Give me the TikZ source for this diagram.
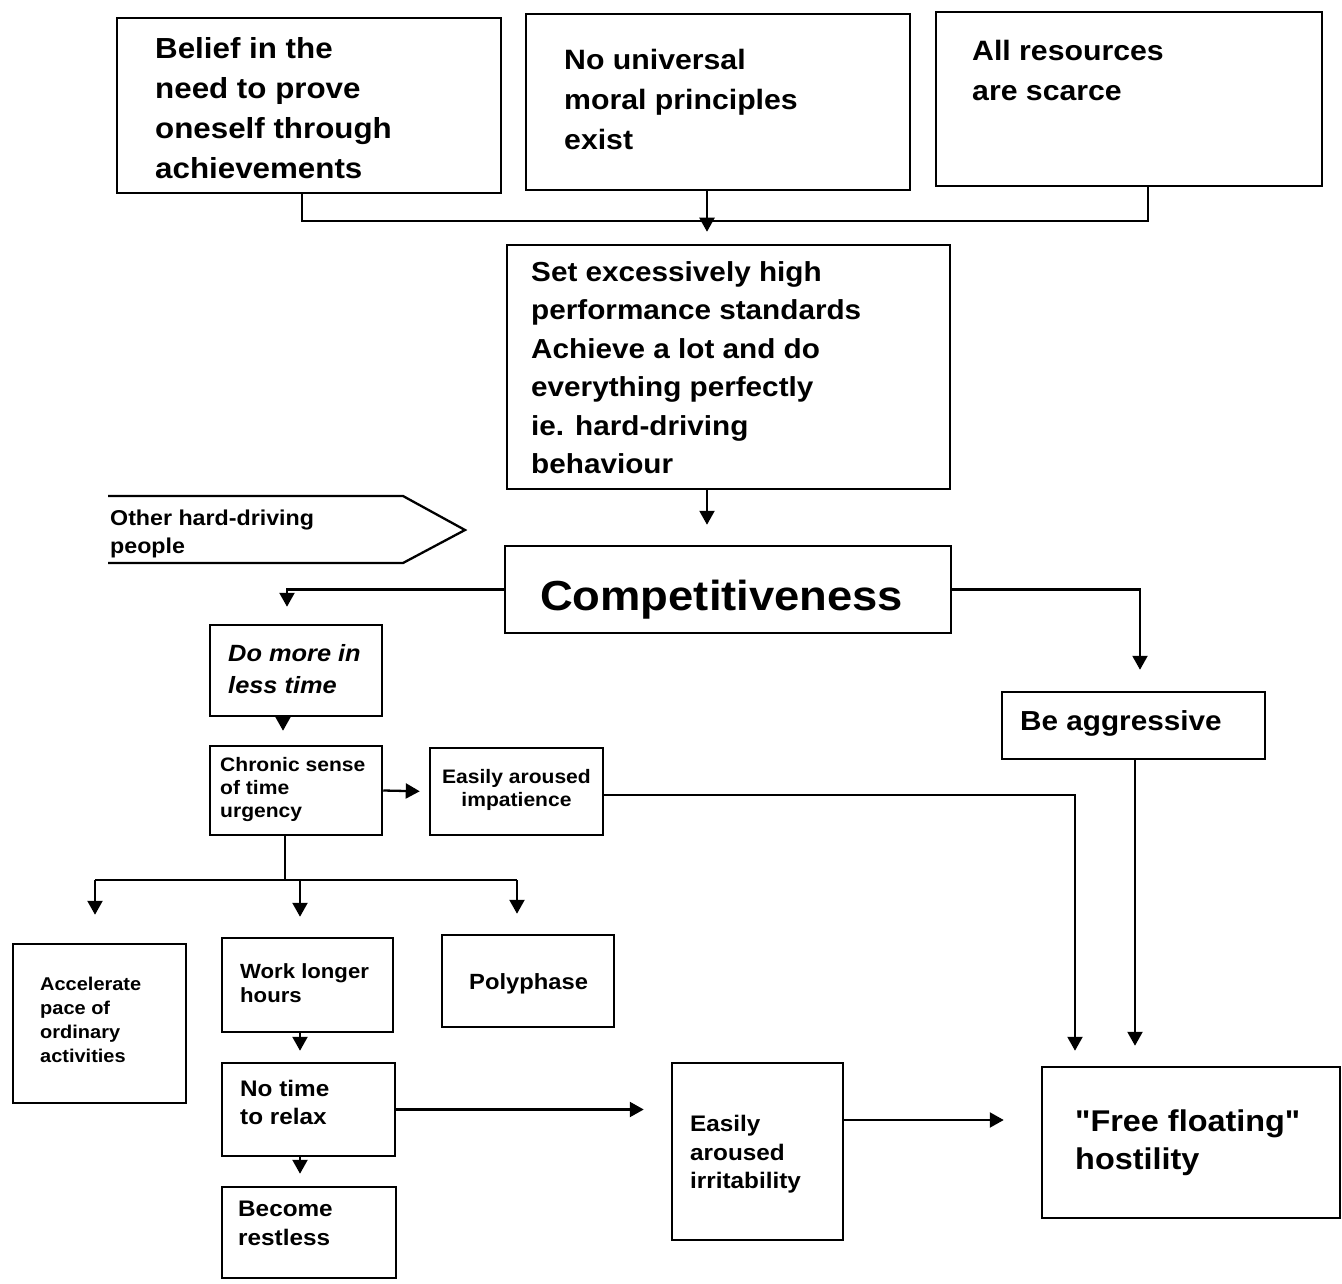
\documentclass[tikz,border=0pt]{standalone}
\usepackage{fontspec}
\setmainfont{Liberation Sans}[FakeStretch=1.08]
\newfontfamily\quotefont{Liberation Sans}[FakeStretch=1.08]
\newcommand{\sq}{{\quotefont\bfseries"}}
\usetikzlibrary{arrows.meta}
\tikzset{
  box/.style={draw, line width=2.5pt, inner sep=0pt},
  txt/.style 2 args={anchor=north west, inner sep=0pt, align=left, font=\bfseries\fontsize{#1}{#2}\selectfont},
  ctxt/.style 2 args={anchor=north, inner sep=0pt, align=center, font=\bfseries\fontsize{#1}{#2}\selectfont},
  link/.style={line width=2.3pt},
  arr/.style={line width=2.3pt, -{Triangle[width=15pt,length=14pt]}},
}
\begin{document}
\begin{tikzpicture}[x=1pt,y=-1pt]
\fill[white] (0,0) rectangle (1342,1284);
\useasboundingbox (0,0) rectangle (1342,1284);

% boxes
\node[box, minimum width=384pt, minimum height=175pt] (b1) at (309,105.5) {};
\node[box, minimum width=384pt, minimum height=176pt] (b2) at (718,102) {};
\node[box, minimum width=386pt, minimum height=174pt] (b3) at (1129,99) {};
\node[box, minimum width=443pt, minimum height=244pt] (b4) at (728.5,367) {};
\node[box, minimum width=446pt, minimum height=87pt] (comp) at (728,589.5) {};
\node[box, minimum width=172pt, minimum height=91pt] (domore) at (296,670.5) {};
\node[box, minimum width=263pt, minimum height=67pt] (aggr) at (1133.5,725.5) {};
\node[box, minimum width=172pt, minimum height=89pt] (chronic) at (296,790.5) {};
\node[box, minimum width=173pt, minimum height=87pt] (impat) at (516.5,791.5) {};
\node[box, minimum width=173pt, minimum height=159pt] (accel) at (99.5,1023.5) {};
\node[box, minimum width=171pt, minimum height=94pt] (work) at (307.5,985) {};
\node[box, minimum width=172pt, minimum height=92pt] (poly) at (528,981) {};
\node[box, minimum width=173pt, minimum height=93pt] (notime) at (308.5,1109.5) {};
\node[box, minimum width=174pt, minimum height=91pt] (become) at (309,1232.5) {};
\node[box, minimum width=171pt, minimum height=177pt] (irrit) at (757.5,1151.5) {};
\node[box, minimum width=298pt, minimum height=151pt] (host) at (1191,1142.5) {};

% pentagon arrow shape
\draw[line width=2.3pt] (108,496) -- (403,496) -- (465,530) -- (403,563) -- (108,563);

% texts
\node[txt={29}{40}] (t1) at (155,37) {Belief in the\\need to prove\\oneself through\\achievements};
\node[txt={28}{40}] (t2) at (564,49) {No universal\\moral principles\\exist};
\node[txt={28}{40}] (t3) at (972,40) {All resources\\are scarce};
\node[txt={27.5}{38.5}] (t4) at (531,261) {Set excessively high\\performance standards\\Achieve a lot and do\\everything perfectly\\ie. hard-driving\\behaviour};
\node[txt={21.5}{28}] (t5) at (110,510) {Other hard-driving\\people};
\node[txt={42}{50}] (t6) at (540,580) {Competitiveness};
\node[txt={23.5}{32}, font=\bfseries\itshape\fontsize{23.5}{32}\selectfont] (t7) at (228,644) {Do more in\\less time};
\node[txt={19.5}{23}] (t8) at (220,757) {Chronic sense\\of time\\urgency};
\node[ctxt={19.5}{23}] (t9) at (516.5,769) {Easily aroused\\impatience};
\node[txt={27.5}{30}] (t10) at (1020,710) {Be aggressive};
\node[txt={18.5}{24}] (t11) at (40,977) {Accelerate\\pace of\\ordinary\\activities};
\node[txt={20.5}{24}] (t12) at (240,963) {Work longer\\hours};
\node[txt={22}{24}] (t13) at (469,973) {Polyphase};
\node[txt={22.5}{28}] (t14) at (240,1080) {No time\\to relax};
\node[txt={22.5}{29}] (t15) at (238,1201) {Become\\restless};
\node[txt={22.5}{28.5}] (t16) at (690,1115) {Easily\\aroused\\irritability};
\node[txt={30}{38}] (t17) at (1075,1110) {\sq Free floating\sq\\hostility};

% top merge
\coordinate (j1) at (302,221);
\coordinate (j3) at (1148,221);
\draw[link] (b1.south -| j1) -- (j1) -- (j3) -- (b3.south -| j3);
\draw[arr, shorten >=12pt] ([xshift=-11pt]b2.south) -- ([xshift=-11pt]b2.south |- b4.north);
\draw[arr, shorten >=20pt] ([xshift=-21.5pt]b4.south) -- ([xshift=-21.5pt]b4.south |- comp.north);

% competitiveness branches
\draw[arr, shorten >=17pt] (comp.west) -| ([xshift=-9pt]domore.north);
\draw[arr, shorten >=21pt] (comp.east) -| ([xshift=6.5pt]aggr.north);

\draw[arr, shorten >=14pt] ([xshift=-13pt]domore.south) -- ([xshift=-13pt]domore.south |- chronic.north);
\draw[arr, shorten >=9pt] (chronic.east) -- (impat.west);
\draw[arr, shorten >=15pt] ([yshift=-3.5pt]impat.east) -| ([xshift=-116pt]host.north);
\draw[arr, shorten >=20pt] ([xshift=1.5pt]aggr.south) -- ([xshift=1.5pt]aggr.south |- host.north);

% tree
\coordinate (fk) at (285,880);
\coordinate (fl) at (95,880);
\coordinate (fm) at (300,880);
\coordinate (fr) at (517,880);
\draw[link] (chronic.south -| fk) -- (fk);
\draw[link] (fl) -- (fr);
\draw[arr, shorten >=28pt] (fl) -- (fl |- accel.north);
\draw[arr, shorten >=20pt] (fm) -- (fm |- work.north);
\draw[arr, shorten >=20pt] (fr) -- (fr |- poly.north);

\draw[arr, shorten >=11pt] (work.south -| fm) -- (notime.north -| fm);
\draw[arr, shorten >=12pt] (notime.south -| fm) -- (become.north -| fm);
\draw[arr, shorten >=27pt] (notime.east) -- (irrit.west |- notime.east);
\coordinate (ir) at ([yshift=31.5pt]irrit.east);
\draw[arr, shorten >=37pt] (ir) -- (ir -| host.west);
\end{tikzpicture}
\end{document}
